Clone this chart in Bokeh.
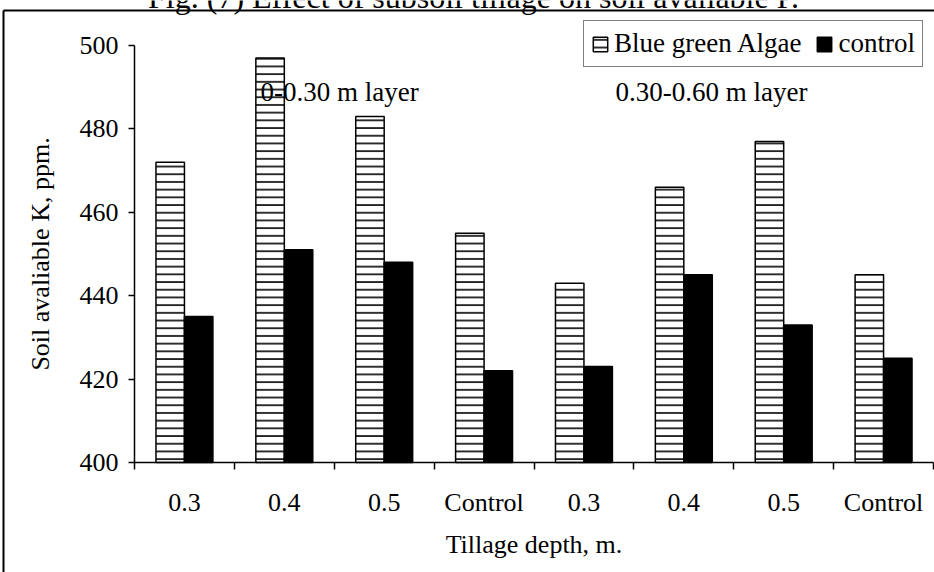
import numpy as np
from bokeh.plotting import figure
from bokeh.models import Range1d, FixedTicker, Legend, LegendItem, Label, Arrow
from bokeh.embed import file_html
from bokeh.resources import INLINE

# ---- data ----
categories = ["0.3", "0.4", "0.5", "Control", "0.3", "0.4", "0.5", "Control"]
algae = [472, 497, 483, 455, 443, 466, 477, 445]
control = [435, 451, 448, 422, 423, 445, 433, 425]
y_ticks = [400, 420, 440, 460, 480, 500]
series_names = ["Blue green Algae", "control"]
layer_labels = ["0-0.30 m layer", "0.30-0.60 m layer"]
title_text = "Fig. (7) Effect of subsoil tillage on soil avaliable P."
x_title = "Tillage depth, m."
y_title = "Soil avaliable K, ppm."

FONT = "Liberation Serif"
W, H = 934, 572
# target pixel geometry of the plotting area (from reference)
AX_L, AX_R, AX_T, AX_B = 134, 933, 45, 462
YMIN, YMAX = 400, 500

n = len(categories)
centers = np.arange(n) + 0.5
bw = 0.285

ux = (AX_R - AX_L) / n          # pixels per category
uy = (AX_B - AX_T) / (YMAX - YMIN)  # pixels per unit

def px_x(px):
    return (px - AX_L) / ux
def px_y(py):
    return YMIN + (AX_B - py) / uy

p = figure(width=W, height=H, output_backend="svg", toolbar_location=None,
           title=None,
           x_range=Range1d(px_x(0), px_x(W)), y_range=Range1d(px_y(H), px_y(0)),
           min_border=0, min_border_left=0, min_border_right=0,
           min_border_top=0, min_border_bottom=0)
p.outline_line_color = None
p.xgrid.visible = False
p.ygrid.visible = False
p.background_fill_color = "white"
p.border_fill_color = "white"

r1 = p.vbar(x=centers - bw / 2, top=algae, bottom=YMIN, width=bw,
            fill_color="white", line_color="black", line_width=1.5,
            hatch_pattern="horizontal_line", hatch_scale=7.7, hatch_weight=1.6,
            hatch_color="black")
r2 = p.vbar(x=centers + bw / 2, top=control, bottom=YMIN, width=bw,
            fill_color="black", line_color="black", line_width=1.5)

# axes (fixed at the data origin so that the plotting frame fills the canvas)
xa = p.xaxis[0]
xa.fixed_location = YMIN
xa.bounds = (0, n)
xa.ticker = FixedTicker(ticks=list(centers), minor_ticks=list(range(n + 1)))
xa.major_label_overrides = {float(c): lab for c, lab in zip(centers, categories)}
xa.major_tick_out = 0
xa.major_tick_in = 0
xa.minor_tick_out = 7
xa.minor_tick_in = 0
xa.minor_tick_line_color = "black"
xa.minor_tick_line_width = 1.5
xa.axis_line_color = "black"
xa.axis_line_width = 1.5
xa.major_label_text_font = FONT
xa.major_label_text_font_size = "26px"
xa.major_label_text_color = "black"
xa.major_label_standoff = 18
xa.axis_label = x_title
xa.axis_label_text_font = FONT
xa.axis_label_text_font_size = "26px"
xa.axis_label_text_font_style = "normal"
xa.axis_label_text_color = "black"
xa.axis_label_standoff = 10

ya = p.yaxis[0]
ya.fixed_location = 0
ya.bounds = (YMIN, YMAX)
ya.ticker = FixedTicker(ticks=y_ticks)
ya.minor_tick_line_color = None
ya.major_tick_out = 6
ya.major_tick_in = 0
ya.major_tick_line_width = 1.5
ya.major_tick_line_color = "black"
ya.axis_line_color = "black"
ya.axis_line_width = 1.5
ya.major_label_text_font = FONT
ya.major_label_text_font_size = "26px"
ya.major_label_text_color = "black"
ya.major_label_standoff = 10
ya.axis_label = y_title
ya.axis_label_text_font = FONT
ya.axis_label_text_font_size = "26px"
ya.axis_label_text_font_style = "normal"
ya.axis_label_text_color = "black"
ya.axis_label_standoff = 22

# layer labels
for lab, px in zip(layer_labels, [260, 615]):
    p.add_layout(Label(x=px_x(px), y=px_y(91), text=lab, text_font=FONT,
                       text_font_size="27px", text_color="black",
                       text_baseline="middle", text_align="left"))

# title (mostly cut off at the top, as in the reference)
p.add_layout(Label(x=px_x(473), y=px_y(-4), text=title_text, text_font=FONT,
                   text_font_size="32px", text_color="black",
                   text_baseline="alphabetic", text_align="center"))

# outer frame lines
for (x0, y0, x1, y1) in [(3, 10, 940, 10), (3, 10, 3, 600)]:
    p.add_layout(Arrow(end=None, x_start=px_x(x0), y_start=px_y(y0),
                       x_end=px_x(x1), y_end=px_y(y1),
                       line_color="black", line_width=2))

legend = Legend(items=[LegendItem(label=series_names[0], renderers=[r1]),
                       LegendItem(label=series_names[1], renderers=[r2])],
                orientation="horizontal", location=(583, H - 67),
                label_text_font=FONT, label_text_font_size="27px",
                label_text_color="black", glyph_width=18, glyph_height=18,
                label_standoff=5, spacing=14, padding=7, margin=0,
                border_line_color="black", border_line_width=1.5,
                background_fill_color="white", background_fill_alpha=1.0)
p.add_layout(legend, "center")

open("out.html", "w").write(file_html(p, INLINE))
